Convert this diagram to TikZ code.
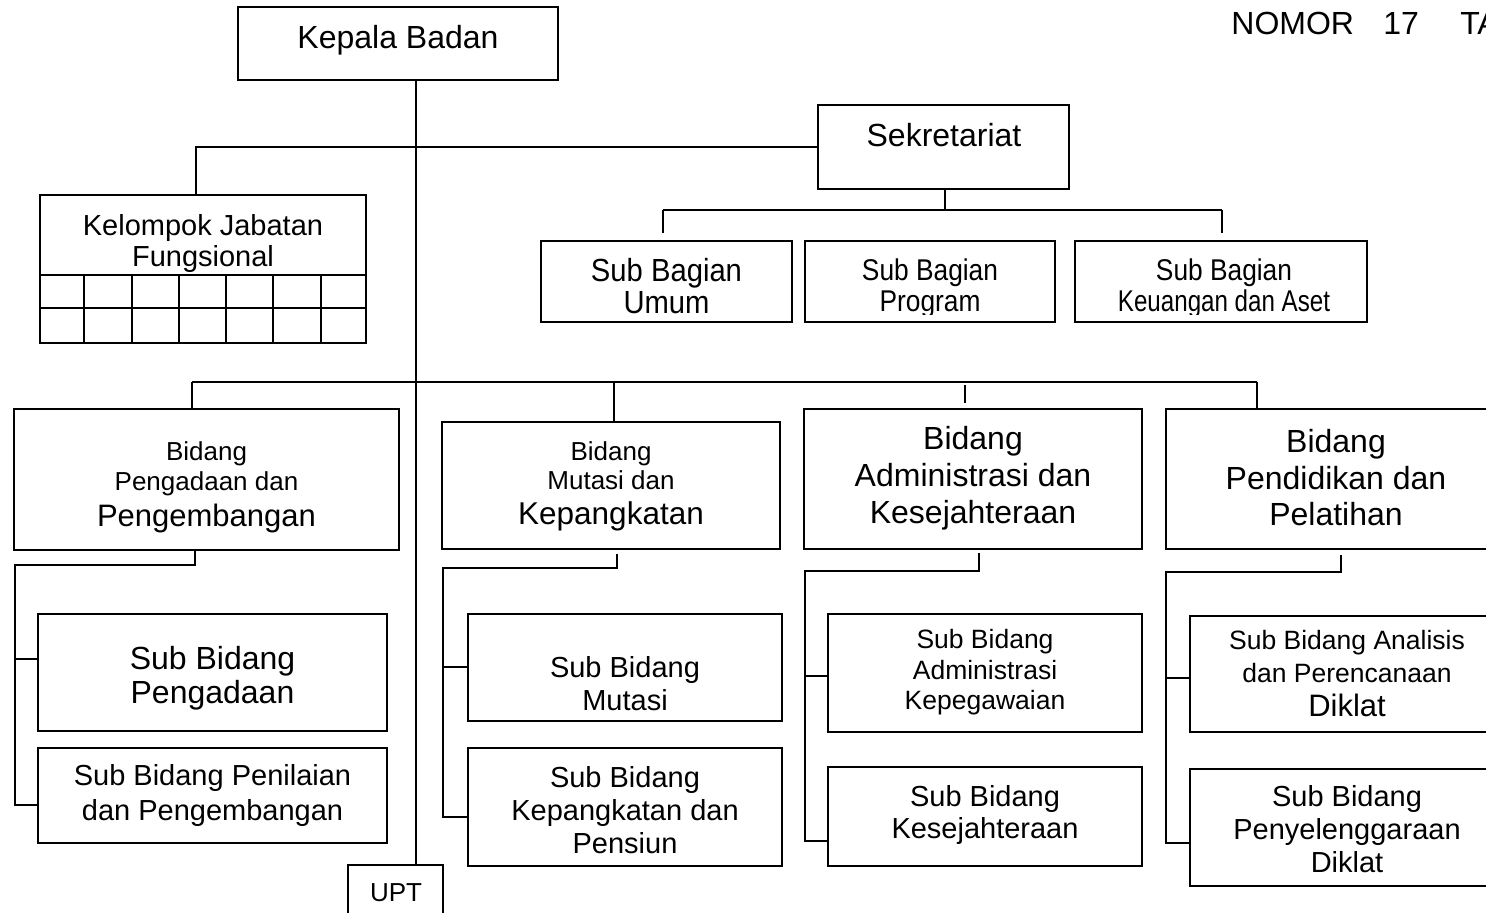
\documentclass[tikz,border=0pt]{standalone}
\usepackage{fontspec}
\setmainfont{Liberation Sans}
\usepackage{graphicx}
\usetikzlibrary{fit,calc}
\newcommand\nf[2]{\fontsize{#1}{#2}\selectfont\lineskiplimit=-100pt\relax}
\newcommand\fz[1]{\fontsize{#1}{#1}\selectfont}
\newcommand\cnd[2]{\scalebox{#1}[1]{#2}}
\begin{document}
\begin{tikzpicture}[x=0.5pt,y=-0.5pt,
  box/.style={draw, line width=1pt, inner sep=0pt},
  txt/.style={align=center, inner sep=0pt},
  conn/.style={line width=1pt}]
\useasboundingbox (0,0) rectangle (1486,912);
\fill[white] (0,0) rectangle (1486,912);

% ---------- boxes ----------
\node[box, fit={(238,7) (558,80)}] (kb) {};
\node[box, fit={(818,105) (1069,189)}] (sek) {};
\node[box, fit={(40,195) (366,343)}] (kjf) {};
\node[box, fit={(541,241) (792,322)}] (sbu) {};
\node[box, fit={(805,241) (1055,322)}] (sbp) {};
\node[box, fit={(1075,241) (1367,322)}] (sbk) {};
\node[box, fit={(14,409) (399,550)}] (bp) {};
\node[box, fit={(442,422) (780,549)}] (bm) {};
\node[box, fit={(804,409) (1142,549)}] (ba) {};
\node[box, fit={(1166,409) (1506,549)}] (bpd) {};
\node[box, fit={(38,614) (387,731)}] (sp1) {};
\node[box, fit={(38,748) (387,843)}] (sp2) {};
\node[box, fit={(468,614) (782,721)}] (sm1) {};
\node[box, fit={(468,748) (782,866)}] (sm2) {};
\node[box, fit={(828,614) (1142,732)}] (sa1) {};
\node[box, fit={(828,767) (1142,866)}] (sa2) {};
\node[box, fit={(1190,616) (1504,732)}] (sd1) {};
\node[box, fit={(1190,769) (1504,886)}] (sd2) {};
\node[box, fit={(348,865) (443,930)}] (upt) {};

% ---------- grid of Kelompok Jabatan Fungsional ----------
\foreach \yy in {275,308} \draw[conn] (40,\yy) -- (366,\yy);
\foreach \xx in {84,132,179,226,273,321} \draw[conn] (\xx,275) -- (\xx,343);

% ---------- texts ----------
\node[txt, font=\nf{16}{18}] (kbt) at (398,40.5) {Kepala Badan};
\node[txt, font=\nf{16}{18}] (sekt) at (944,135.3) {Sekretariat};
\node[anchor=base west, inner sep=0pt, font=\nf{16}{18}] (nomor) at (1231,34) {NOMOR\hspace{14.6pt}17\hspace{20.7pt}TA};
\node[txt, font=\nf{14.5}{15.5}] (kjft) at (203,243) {Kelompok Jabatan\\Fungsional};

\node[txt, font=\nf{16}{16}] (sbut) at (666.5,286.3) {\cnd{0.913}{Sub Bagian}\\\cnd{0.913}{Umum}};
\begin{scope}
\clip (805,241) rectangle (1367,314);
\node[txt, font=\nf{15}{15.5}] (sbpt) at (930,288.7) {\cnd{0.877}{Sub Bagian}\\\cnd{0.877}{Program}};
\node[txt, font=\nf{15}{15.5}] (sbkt) at (1224,288.7) {\cnd{0.877}{Sub Bagian}\\\cnd{0.805}{Keuangan dan Aset}};
\end{scope}

\node[txt, font=\nf{13}{15}] (bpt) at (206.5,487.7) {Bidang\\Pengadaan dan\\[3pt]{\fz{15.5}Pengembangan}};
\node[txt, font=\nf{13}{14.5}] (bmt) at (611,486.8) {Bidang\\Mutasi dan\\[3pt]{\fz{15.75}Kepangkatan}};
\node[txt, font=\nf{16}{18.5}] (bat) at (973,478.7) {Bidang\\Administrasi dan\\Kesejahteraan};
\node[txt, font=\nf{16}{18.25}] (bpdt) at (1336,477.8) {Bidang\\Pendidikan dan\\Pelatihan};

\node[txt, font=\nf{16}{17}] (sp1t) at (212.5,678.7) {Sub Bidang\\Pengadaan};
\node[txt, font=\nf{14.5}{17.5}] (sp2t) at (212.5,795) {Sub Bidang Penilaian\\dan Pengembangan};
\node[txt, font=\nf{14.5}{16.25}] (sm1t) at (625,683.4) {Sub Bidang\\Mutasi};
\node[txt, font=\nf{14.5}{16.5}] (sm2t) at (625,810.4) {Sub Bidang\\Kepangkatan dan\\Pensiun};
\node[txt, font=\nf{13.25}{15.25}] (sa1t) at (985,672.6) {Sub Bidang\\Administrasi\\Kepegawaian};
\node[txt, font=\nf{14.5}{16}] (sa2t) at (985,814.5) {Sub Bidang\\Kesejahteraan};
\node[txt, font=\nf{13.25}{16.5}] (sd1t) at (1347,673.8) {Sub Bidang Analisis\\dan Perencanaan\\[0.5pt]{\fz{15.5}Diklat}};
\node[txt, font=\nf{14.5}{16.5}] (sd2t) at (1347,829.4) {Sub Bidang\\Penyelenggaraan\\Diklat};
\node[txt, font=\nf{13}{15}] (uptt) at (396,892.7) {UPT};

% ---------- connectors ----------
\coordinate (tk) at (416,0);
\draw[conn] (kb.south -| tk) -- (upt.north -| tk);

\coordinate (xk) at (196,0);
\draw[conn] (kjf.north -| xk) |- (sek.west);

\coordinate (sbus) at (945,210);
\draw[conn] (sek.south -| sbus) -- (sbus);
\coordinate (s1) at (663,210);
\coordinate (s2) at (1222,210);
\draw[conn] (s1) -- (s2);
\draw[conn] (s1) -- ($(s1 |- sbu.north)+(0,-7)$);
\draw[conn] (s2) -- ($(s2 |- sbk.north)+(0,-7)$);

\coordinate (d1) at (192,382);
\coordinate (d2) at (614,382);
\coordinate (d3) at (965,382);
\coordinate (d4) at (1257,382);
\draw[conn] (d1) -- (d4);
\draw[conn] (d1) -- (d1 |- bp.north);
\draw[conn] (d2) -- (d2 |- bm.north);
\draw[conn] ($(d3)+(0,3)$) -- ($(d3 |- ba.north)+(0,-5)$);
\draw[conn] (d4) -- (d4 |- bpd.north);

% Pengadaan column
\coordinate (c1) at (195,565);
\coordinate (l1) at (15,565);
\coordinate (b11) at (15,659);
\coordinate (b12) at (15,805);
\draw[conn] (c1 |- bp.south) -- (c1) -- (l1) -- (b12) -- (b12 -| sp2.west);
\draw[conn] (b11) -- (b11 -| sp1.west);

% Mutasi column
\coordinate (c2) at (617,568);
\coordinate (l2) at (443,568);
\coordinate (b21) at (443,667);
\coordinate (b22) at (443,817);
\draw[conn] ($(c2 |- bm.south)+(0,4)$) -- (c2) -- (l2) -- (b22) -- (b22 -| sm2.west);
\draw[conn] (b21) -- (b21 -| sm1.west);

% Administrasi column
\coordinate (c3) at (979,571);
\coordinate (l3) at (805,571);
\coordinate (b31) at (805,676);
\coordinate (b32) at (805,841);
\draw[conn] ($(c3 |- ba.south)+(0,3)$) -- (c3) -- (l3) -- (b32) -- (b32 -| sa2.west);
\draw[conn] (b31) -- (b31 -| sa1.west);

% Pendidikan column
\coordinate (c4) at (1341,572);
\coordinate (l4) at (1166,572);
\coordinate (b41) at (1166,678);
\coordinate (b42) at (1166,843);
\draw[conn] ($(c4 |- bpd.south)+(0,5)$) -- (c4) -- (l4) -- (b42) -- (b42 -| sd2.west);
\draw[conn] (b41) -- (b41 -| sd1.west);
\end{tikzpicture}
\end{document}
